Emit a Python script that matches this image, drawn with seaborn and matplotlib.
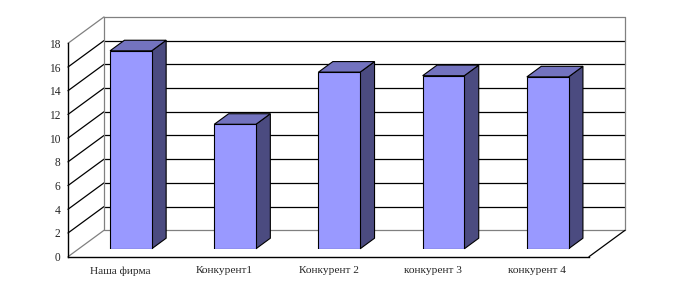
import matplotlib
matplotlib.use("Agg")
import matplotlib.pyplot as plt
import seaborn as sns
import pandas as pd
from matplotlib.patches import Polygon

categories = ["Наша фирма", "Конкурент1", "Конкурент 2", "конкурент 3", "конкурент 4"]
values = [16.7, 10.5, 14.9, 14.6, 14.5]
yticks = [0, 2, 4, 6, 8, 10, 12, 14, 16, 18]

sns.set_style("white")
plt.rcParams["font.family"] = ["Liberation Serif", "DejaVu Serif"]

W, H = 675, 297
fig = plt.figure(figsize=(W / 100, H / 100), dpi=100)

# front plane geometry (pixels)
x0p, x1p = 68, 589
y0p, y1p = 256.7, 43.3
left = x0p / W
bottom = (H - y0p) / H
width = (x1p - x0p) / W
height = (y0p - y1p) / H

ax = fig.add_axes([left, bottom, width, height])
n = len(categories)
ax.set_xlim(-0.5, n - 0.5)
ax.set_ylim(0, 18)
pxx = (x1p - x0p) / n          # pixels per category
pxy = (y0p - y1p) / 18.0       # pixels per unit

# full depth offset
DXp, DYp = 36.0, 26.4
DX, DY = DXp / pxx, DYp / pxy

grey = "#808080"
# back wall + gridlines
xb0, xb1 = -0.5 + DX, n - 0.5 + DX
for v in yticks:
    c = grey if v in (0, 18) else "black"
    ax.plot([xb0, xb1], [v + DY, v + DY], color=c, lw=0.9, clip_on=False, zorder=1)
    ax.plot([-0.5, xb0], [v, v + DY], color=c, lw=0.9, clip_on=False, zorder=1)
ax.plot([xb0, xb0], [DY, 18 + DY], color=grey, lw=0.9, clip_on=False, zorder=1)
ax.plot([xb1, xb1], [DY, 18 + DY], color=grey, lw=0.9, clip_on=False, zorder=1)
ax.plot([n - 0.5, xb1], [0, DY], color="black", lw=0.9, clip_on=False, zorder=1)

for s in ["top", "right"]:
    ax.spines[s].set_visible(False)
for s in ["left", "bottom"]:
    ax.spines[s].set_color("black")
    ax.spines[s].set_linewidth(1.0)
ax.set_yticks(yticks)
ax.set_yticklabels([str(v) for v in yticks], fontsize=8.3)
ax.set_xticks(range(n))
ax.set_xticklabels(categories, fontsize=8.2)
ax.set_xticks([i + 0.5 for i in range(n)], minor=True)
ax.tick_params(axis="x", which="major", length=0, pad=7)
ax.tick_params(axis="x", which="minor", length=3, width=0.8, direction="out", color="black")
ax.tick_params(axis="y", length=3.5, width=0.8, direction="out", color="black", pad=2)
ax.patch.set_alpha(0)

# bar plane (shifted by 0.3 of the depth)
t = 0.3
axb = fig.add_axes([left + t * DXp / W, bottom + t * DYp / H, width, height])
df = pd.DataFrame({"cat": categories, "val": values})
sns.barplot(data=df, x="cat", y="val", ax=axb, color="#9999FF", saturation=1,
            width=0.4, edgecolor="black", linewidth=0.8, order=categories)
axb.set_xlim(-0.5, n - 0.5)
axb.set_ylim(0, 18)
axb.axis("off")

# 3D faces
bd = 0.4
ddx, ddy = bd * DX, bd * DY
for p in list(axb.patches):
    xa = p.get_x()
    xe = xa + p.get_width()
    h = p.get_height()
    side = Polygon([(xe, 0), (xe + ddx, ddy), (xe + ddx, h + ddy), (xe, h)], closed=True,
                   facecolor="#4B4B80", edgecolor="black", lw=0.8, clip_on=False, zorder=1)
    top = Polygon([(xa, h), (xa + ddx, h + ddy), (xe + ddx, h + ddy), (xe, h)], closed=True,
                  facecolor="#7373BF", edgecolor="black", lw=0.8, clip_on=False, zorder=1)
    axb.add_patch(side)
    axb.add_patch(top)
    p.set_zorder(2)

fig.savefig("out.png", dpi=100)
